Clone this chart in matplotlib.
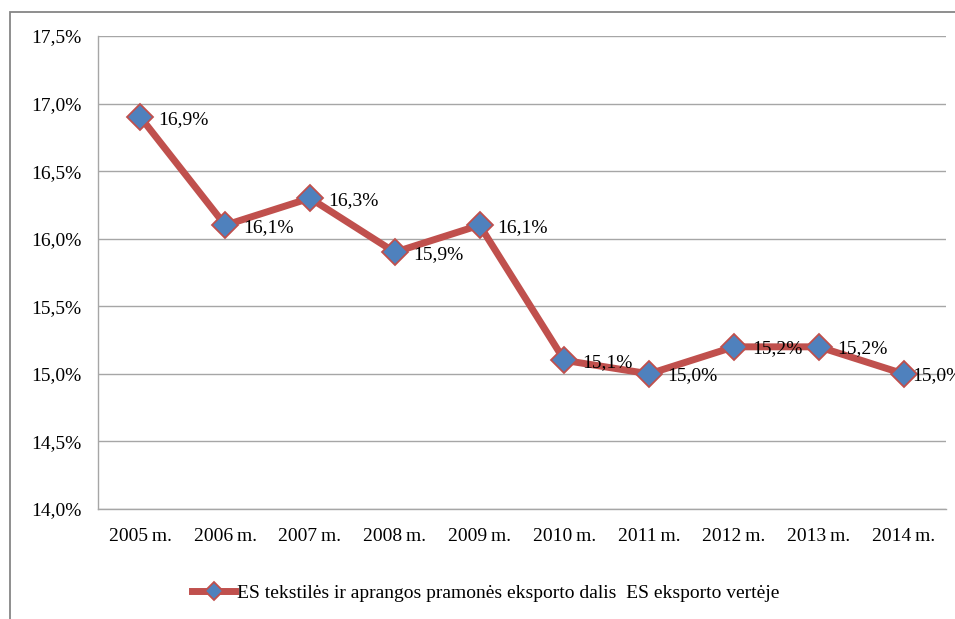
import matplotlib
matplotlib.use("Agg")
import matplotlib.pyplot as plt
from matplotlib.patches import Rectangle

years = ["2005\u2009m.", "2006\u2009m.", "2007\u2009m.", "2008\u2009m.", "2009\u2009m.",
         "2010\u2009m.", "2011\u2009m.", "2012\u2009m.", "2013\u2009m.", "2014\u2009m."]
share = [16.9, 16.1, 16.3, 15.9, 16.1, 15.1, 15.0, 15.2, 15.2, 15.0]
yticks = [14.0, 14.5, 15.0, 15.5, 16.0, 16.5, 17.0, 17.5]
series_name = "ES tekstilės ir aprangos pramonės eksporto dalis  ES eksporto vertėje"

plt.rcParams["font.family"] = ["Liberation Serif", "DejaVu Serif"]

LINE = "#C0504D"
MARK = "#4F81BD"
GRID = "#A6A6A6"
FS = 14

fig = plt.figure(figsize=(9.55, 6.19), dpi=100)

# outer chart frame (cut off at right and bottom, as in the original)
fig.patches.append(Rectangle((10 / 955, -0.05), 1.2, 1 - 12 / 619 + 0.05,
                             transform=fig.transFigure, fill=False,
                             edgecolor="#868686", lw=1.3))

ax = fig.add_axes([98 / 955, 1 - 509 / 619, 848 / 955, 473 / 619])
x = list(range(len(years)))
line, = ax.plot(x, share, "-", color=LINE, lw=5, marker="D", ms=13,
                mfc=MARK, mec=LINE, mew=1.3, solid_joinstyle="round",
                label=series_name, zorder=3)

# data labels right of each point; the last sits tight to its marker
for xi, v in zip(x, share):
    dx = 6 if xi == x[-1] else 13
    ax.annotate(f"{v:.1f}%".replace(".", ","), (xi, v), xytext=(dx, -1.5),
                textcoords="offset points", ha="left", va="center",
                fontsize=FS, zorder=4, annotation_clip=False)

ax.set_xlim(-0.5, len(years) - 0.5)
ax.set_ylim(14.0, 17.5)
ax.set_yticks(yticks)
ax.set_yticklabels([f"{t:.1f}%".replace(".", ",") for t in yticks])
ax.set_xticks(x)
ax.set_xticklabels(years)
ax.tick_params(axis="y", length=0, pad=12, labelsize=FS)
ax.tick_params(axis="x", length=0, pad=14, labelsize=FS)
ax.grid(axis="y", color=GRID, lw=1)
ax.set_axisbelow(True)
for s in ["top", "right"]:
    ax.spines[s].set_visible(False)
for s in ["left", "bottom"]:
    ax.spines[s].set_color(GRID)
    ax.spines[s].set_linewidth(1)

fig.legend(handles=[line], loc="center", bbox_to_anchor=(486 / 955, 1 - 593 / 619),
           frameon=False, fontsize=FS, handlelength=2.2, handletextpad=0.1,
           markerscale=0.7, borderaxespad=0)

fig.savefig("out.png", dpi=100)
